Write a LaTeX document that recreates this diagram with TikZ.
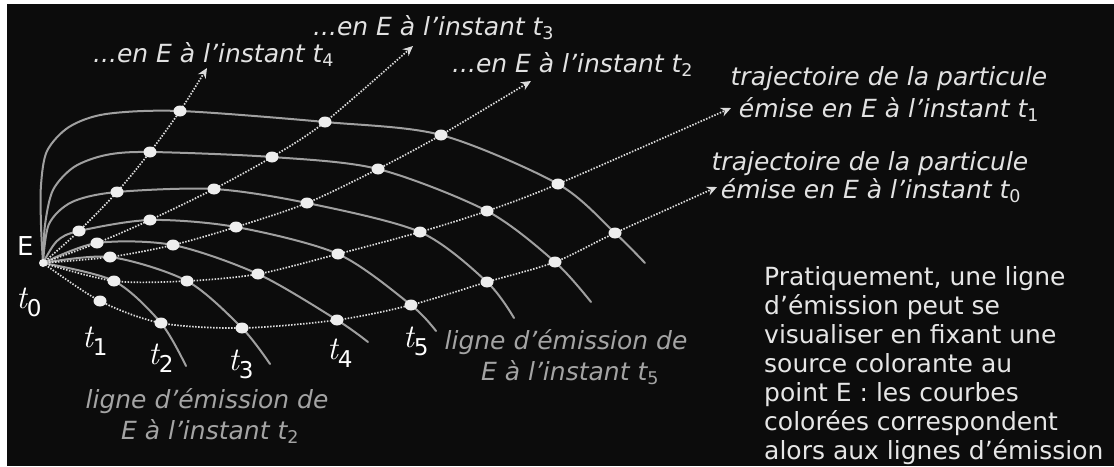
\documentclass[tikz,border=0pt]{standalone}
\usepackage{fontspec}
\setmainfont{DejaVu Sans}
\newfontfamily\lmr{Latin Modern Roman}
\usetikzlibrary{arrows.meta}
\definecolor{bg}{HTML}{0C0C0C}
\definecolor{streakc}{HTML}{A0A0A0}
\definecolor{trajc}{HTML}{DCDCDC}
\definecolor{dotc}{HTML}{EEEEEE}
\definecolor{lblc}{HTML}{E2E2E2}
\definecolor{dimc}{HTML}{A4A4A4}
\definecolor{parac}{HTML}{E6E6E6}
\begin{document}
\begin{tikzpicture}[x=1pt,y=-1pt,
  streak/.style={draw=streakc,line width=2pt,line cap=round},
  traj/.style={draw=trajc,line width=1.7pt,dash pattern=on 1.5pt off 1.5pt,-{Stealth[length=10pt,width=9pt]}},
  txt/.style={text=lblc,inner sep=0pt,anchor=base west,font=\fontsize{25}{30}\selectfont\itshape},
  txtc/.style={text=lblc,inner sep=0pt,anchor=base,font=\fontsize{25}{30}\selectfont\itshape},
  dimtxt/.style={text=dimc,inner sep=0pt,anchor=base,font=\fontsize{25}{30}\selectfont\itshape},
  para/.style={text=parac,inner sep=0pt,anchor=base west,font=\fontsize{25}{30}\selectfont},
  tlab/.style={text=white,inner sep=0pt,anchor=base west,font=\fontsize{33}{36}\selectfont},
  pdot/.style={fill=dotc}]
\useasboundingbox (0,0) rectangle (1114,466);
\fill[white] (0,0) rectangle (1114,466);
\fill[bg] (7,4) rectangle (1114,466);

% source point
\coordinate (E) at (43,263);
% particle emitted at t0
\coordinate (a1) at (100,301);
\coordinate (a2) at (161,323);
\coordinate (a3) at (242,328);
\coordinate (a4) at (337,320);
\coordinate (a5) at (411,305);
\coordinate (a6) at (487,282);
\coordinate (a7) at (555,262);
\coordinate (a8) at (615,233);
\coordinate (A) at (717,187);
% particle emitted at t1
\coordinate (b2) at (114,281);
\coordinate (b3) at (187,281);
\coordinate (b4) at (258,274);
\coordinate (b5) at (338,254);
\coordinate (b6) at (420,232);
\coordinate (b7) at (487,211);
\coordinate (b8) at (558,184);
\coordinate (B) at (731,108);
% particle emitted at t2
\coordinate (c3) at (110,257);
\coordinate (c4) at (173,245);
\coordinate (c5) at (236,227);
\coordinate (c6) at (307,203);
\coordinate (c7) at (378,169);
\coordinate (c8) at (441,135);
\coordinate (C) at (531,81);
% particle emitted at t3
\coordinate (d4) at (97,243);
\coordinate (d5) at (150,220);
\coordinate (d6) at (214,189);
\coordinate (d7) at (272,157);
\coordinate (d8) at (325,122);
\coordinate (D) at (413,46);
% particle emitted at t4
\coordinate (e5) at (79,231);
\coordinate (e6) at (117,192);
\coordinate (e7) at (150,152);
\coordinate (e8) at (180,111);
\coordinate (F) at (207,68);

% streak line ends
\coordinate (s2) at (186,366);
\coordinate (s3) at (270,364);
\coordinate (s4) at (368,342);
\coordinate (s5) at (436,331);
\coordinate (s6) at (514,318);
\coordinate (s7) at (591,302);
\coordinate (s8) at (645,263);

% streak lines (solid)
\draw[streak] plot[smooth] coordinates {(E) (b2) (a2) (s2)};
\draw[streak] plot[smooth] coordinates {(E) (c3) (b3) (a3) (s3)};
\draw[streak] plot[smooth] coordinates {(E) (d4) (c4) (b4) (a4) (s4)};
\draw[streak] plot[smooth] coordinates {(E) (57,241) (e5) (d5) (c5) (b5) (a5) (s5)};
\draw[streak] plot[smooth] coordinates {(E) (49,224) (72,202) (e6) (d6) (c6) (b6) (a6) (s6)};
\draw[streak] plot[smooth] coordinates {(E) (45,225) (53,190) (74,167) (106,155) (e7) (d7) (c7) (b7) (a7) (s7)};
\draw[streak] plot[smooth] coordinates {(E) (41,225) (41,185) (47,151) (69,127) (106,114) (e8) (d8) (c8) (b8) (a8) (s8)};

% trajectories (dotted)
\draw[traj] plot[smooth] coordinates {(E) (a1) (a2) (a3) (a4) (a5) (a6) (a7) (a8) (A)};
\draw[traj] plot[smooth] coordinates {(E) (b2) (b3) (b4) (b5) (b6) (b7) (b8) (B)};
\draw[traj] plot[smooth] coordinates {(E) (c3) (c4) (c5) (c6) (c7) (c8) (C)};
\draw[traj] plot[smooth] coordinates {(E) (d4) (d5) (d6) (d7) (d8) (D)};
\draw[traj] plot[smooth] coordinates {(E) (e5) (e6) (e7) (e8) (F)};

% particles
\foreach \p in {a1,a2,a3,a4,a5,a6,a7,a8,b2,b3,b4,b5,b6,b7,b8,c3,c4,c5,c6,c7,c8,d4,d5,d6,d7,d8,e5,e6,e7,e8}
  \fill[pdot] (\p) ellipse [x radius=6.5,y radius=5.5];
\fill[pdot] (E) circle [radius=4];

% labels
\node[txt] (l4) at (93,62) {...en E à l’instant t\textsubscript{\upshape 4}};
\node[txt] (l3) at (313,35) {...en E à l’instant t\textsubscript{\upshape 3}};
\node[txt] (l2) at (452,72) {...en E à l’instant t\textsubscript{\upshape 2}};
\node[txtc] (p1a) at (889,85) {trajectoire de la particule};
\node[txtc] (p1b) at (889,117) {émise en E à l’instant t\textsubscript{\upshape 1}};
\node[txtc] (p0a) at (870,170) {trajectoire de la particule};
\node[txtc] (p0b) at (871,198) {émise en E à l’instant t\textsubscript{\upshape 0}};
\node[dimtxt] (g2a) at (207,408) {ligne d’émission de};
\node[dimtxt] (g2b) at (210,439) {E à l’instant t\textsubscript{\upshape 2}};
\node[dimtxt] (g5a) at (566,349) {ligne d’émission de};
\node[dimtxt] (g5b) at (570,380) {E à l’instant t\textsubscript{\upshape 5}};

\node[text=white,inner sep=0pt,anchor=base west,font=\fontsize{26}{28}\selectfont] (Elab) at (17,255) {E};
\node[tlab] (t0) at (16,308) {{\lmr\itshape t}\textsubscript{0}};
\node[tlab] (t1) at (82,347) {{\lmr\itshape t}\textsubscript{1}};
\node[tlab] (t2) at (148,364) {{\lmr\itshape t}\textsubscript{2}};
\node[tlab] (t3) at (228,370) {{\lmr\itshape t}\textsubscript{3}};
\node[tlab] (t4) at (327,359) {{\lmr\itshape t}\textsubscript{4}};
\node[tlab] (t5) at (403,347) {{\lmr\itshape t}\textsubscript{5}};

% paragraph
\node[para] (q1) at (764,285) {Pratiquement, une ligne};
\node[para] (q2) at (764,314) {d’émission peut se};
\node[para] (q3) at (764,343) {visualiser en fixant une};
\node[para] (q4) at (764,372) {source colorante au};
\node[para] (q5) at (764,401) {point E : les courbes};
\node[para] (q6) at (764,430) {colorées correspondent};
\node[para] (q7) at (764,459) {alors aux lignes d’émission};
\end{tikzpicture}
\end{document}
